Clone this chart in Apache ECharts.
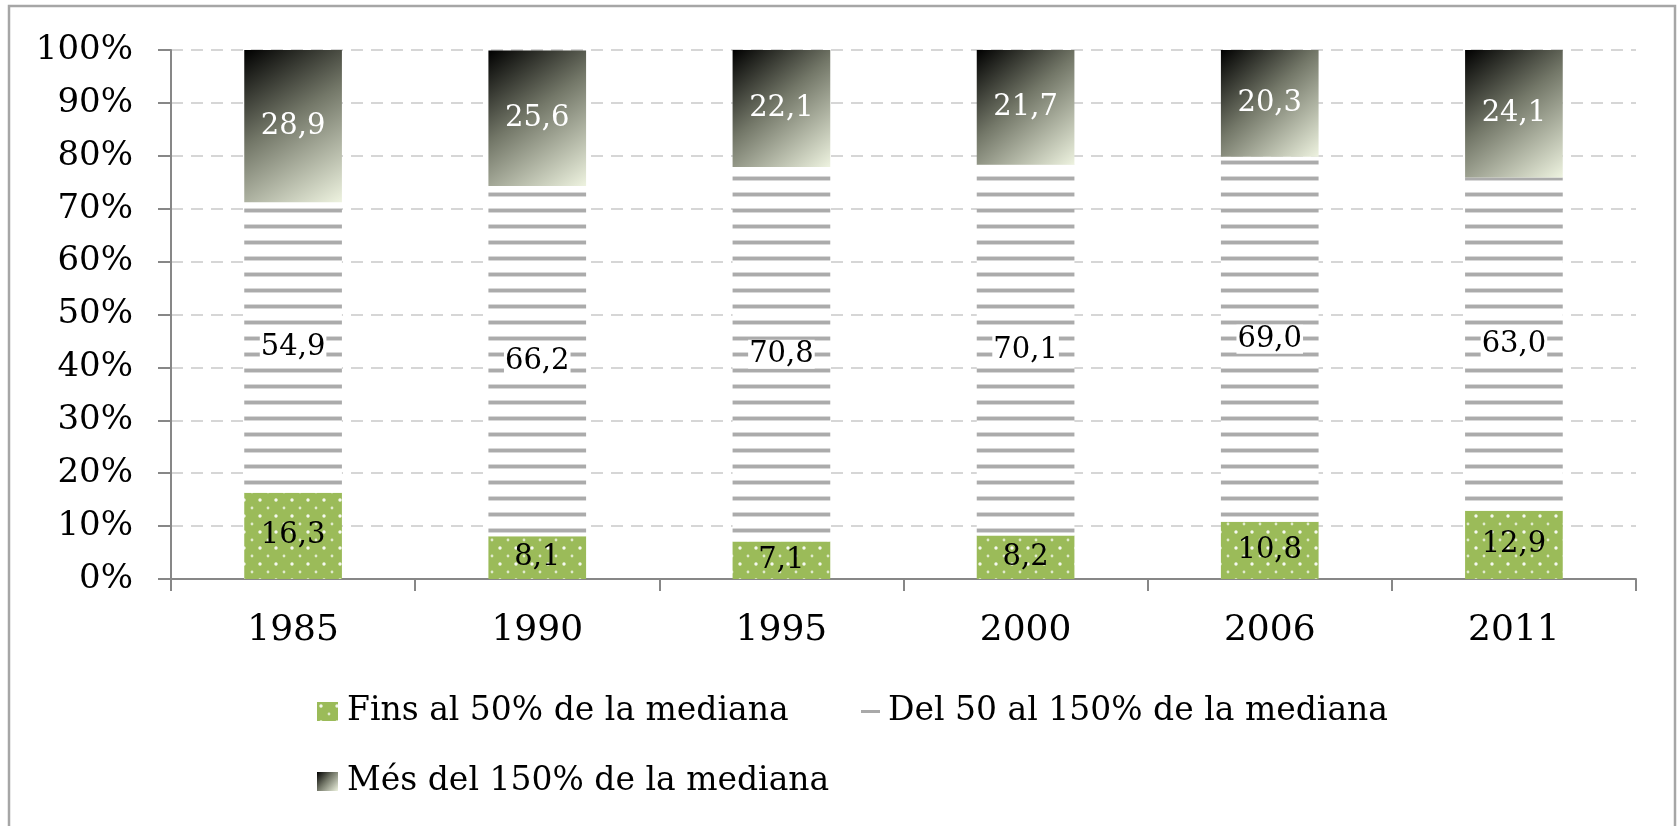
<!DOCTYPE html>
<html>
<head>
<meta charset="utf-8">
<script src="https://cdn.jsdelivr.net/npm/echarts@6/dist/echarts.min.js"></script>
<style>
html,body{margin:0;padding:0;background:#fff;}
#chart{width:1678px;height:826px;}
</style>
</head>
<body>
<div id="chart"></div>
<script>
// ---- data ----
const years = ['1985', '1990', '1995', '2000', '2006', '2011'];
const lowShare = [16.3, 8.1, 7.1, 8.2, 10.8, 12.9];
const midShare = [54.9, 66.2, 70.8, 70.1, 69.0, 63.0];
const highShare = [28.9, 25.6, 22.1, 21.7, 20.3, 24.1];
const seriesNames = ['Fins al 50% de la mediana', 'Del 50 al 150% de la mediana', 'Més del 150% de la mediana'];

// ---- patterns ----
function dotPattern() {
  const c = document.createElement('canvas');
  c.width = 16; c.height = 16;
  const g = c.getContext('2d');
  g.fillStyle = '#9bbb59';
  g.fillRect(0, 0, 16, 16);
  g.fillStyle = 'rgba(255,255,255,0.9)';
  g.beginPath(); g.arc(4, 4, 1.7, 0, Math.PI * 2); g.fill();
  g.fillStyle = 'rgba(255,255,255,0.7)';
  g.beginPath(); g.arc(12, 12, 1.4, 0, Math.PI * 2); g.fill();
  return c;
}
function stripePattern() {
  const c = document.createElement('canvas');
  c.width = 8; c.height = 16;
  const g = c.getContext('2d');
  g.fillStyle = '#ffffff';
  g.fillRect(0, 0, 8, 16);
  g.fillStyle = '#d8d8d8';
  g.fillRect(0, 0, 8, 1);
  g.fillRect(0, 4, 8, 1);
  g.fillStyle = '#ababab';
  g.fillRect(0, 1, 8, 3);
  return c;
}
const greenFill = { image: dotPattern(), repeat: 'repeat' };
const stripeFill = { image: stripePattern(), repeat: 'repeat' };
const darkFill = {
  type: 'linear', x: 0, y: 0, x2: 1, y2: 1,
  colorStops: [
    { offset: 0, color: '#000000' },
    { offset: 0.45, color: '#737768' },
    { offset: 1, color: '#eef3e0' }
  ]
};

const FONT = '"DejaVu Serif", "Liberation Serif", serif';
const fmt = p => p.value.toFixed(1).replace('.', ',');

const chart = echarts.init(document.getElementById('chart'), null, { renderer: 'canvas' });
chart.setOption({
  backgroundColor: '#ffffff',
  animation: false,
  graphic: [{
    type: 'rect', z: -10,
    shape: { x: 9, y: 6, width: 1666, height: 900 },
    style: { fill: 'none', stroke: '#a6a6a6', lineWidth: 2.5 }
  }],
  grid: { left: 171, right: 42, top: 50, bottom: 247 },
  legend: [
    {
      data: [seriesNames[0]], left: 317, top: 695, padding: 0,
      itemWidth: 21, itemHeight: 19, icon: 'rect',
      textStyle: { fontFamily: FONT, fontSize: 33, color: '#000', padding: [0, 0, 0, 4] }
    },
    {
      data: [seriesNames[1]], left: 861, top: 695, padding: 0,
      itemWidth: 19, itemHeight: 3, icon: 'rect',
      itemStyle: { color: '#a9a9a9' },
      textStyle: { fontFamily: FONT, fontSize: 33, color: '#000', padding: [0, 0, 0, 3] }
    },
    {
      data: [seriesNames[2]], left: 317, top: 765, padding: 0,
      itemWidth: 21, itemHeight: 19, icon: 'rect',
      textStyle: { fontFamily: FONT, fontSize: 33, color: '#000', padding: [0, 0, 0, 4] }
    }
  ],
  xAxis: {
    type: 'category',
    data: years,
    axisLine: { lineStyle: { color: '#878787', width: 2 } },
    axisTick: { show: true, length: 12, interval: 0, lineStyle: { color: '#878787', width: 2 } },
    axisLabel: { fontFamily: FONT, fontSize: 36, color: '#000', margin: 34 }
  },
  yAxis: {
    type: 'value', min: 0, max: 100, interval: 10,
    axisLine: { show: true, lineStyle: { color: '#878787', width: 2 } },
    axisTick: { show: true, length: 13, lineStyle: { color: '#878787', width: 2 } },
    axisLabel: { fontFamily: FONT, fontSize: 34, color: '#000', margin: 38, formatter: v => v + '%' },
    splitLine: { show: true, lineStyle: { color: '#d6d6d6', width: 2, type: [12, 8] } }
  },
  series: [
    {
      name: seriesNames[0], type: 'bar', stack: 'total', barWidth: '40%',
      data: lowShare,
      itemStyle: { color: greenFill },
      label: { show: true, position: 'inside', formatter: fmt, fontFamily: FONT, fontSize: 29, color: '#000' }
    },
    {
      name: seriesNames[1], type: 'bar', stack: 'total', barWidth: '40%',
      data: midShare,
      itemStyle: { color: stripeFill },
      label: { show: true, position: 'inside', formatter: fmt, fontFamily: FONT, fontSize: 29, color: '#000', backgroundColor: '#fff', padding: [0, 1] }
    },
    {
      name: seriesNames[2], type: 'bar', stack: 'total', barWidth: '40%',
      data: highShare,
      itemStyle: { color: darkFill },
      label: { show: true, position: 'inside', formatter: fmt, fontFamily: FONT, fontSize: 29, color: '#ffffff' }
    }
  ]
});
</script>
</body>
</html>
